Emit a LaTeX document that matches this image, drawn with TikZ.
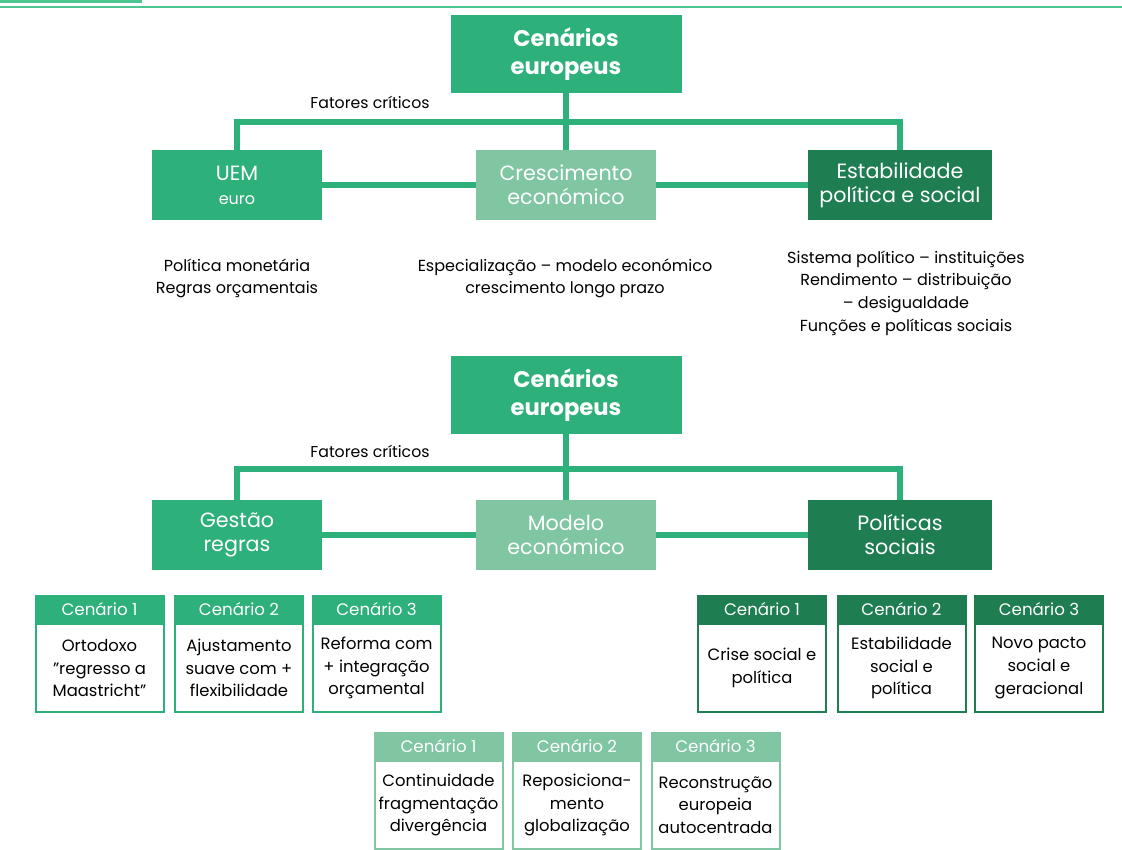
\documentclass[tikz,border=0pt]{standalone}
\usepackage{fontspec}
\setmainfont{Poppins}
\usetikzlibrary{positioning}
\definecolor{verde}{HTML}{2DB079}
\definecolor{verdeclaro}{HTML}{80C6A3}
\definecolor{verdeescuro}{HTML}{1F7D52}
\definecolor{filete}{HTML}{4CC590}

\tikzset{
  topo/.style={rectangle, fill=verde, text=white, align=center,
    minimum width=173.25pt, minimum height=58.5pt,
    font=\fontsize{17}{21.5}\selectfont\bfseries},
  fator/.style={rectangle, fill=#1, text=white, align=center,
    minimum height=52.5pt, inner sep=2pt, font=\fontsize{15.5}{18}\selectfont},
  ligacao/.style={verde, line width=4pt},
  rotulo/.style={font=\fontsize{11.8}{13}\selectfont},
  nota/.style={align=center, font=\fontsize{12}{16.5}\selectfont},
  cabeca/.style={rectangle, fill=#1, draw=#1, line width=1.5pt, text=white,
    minimum width=96pt, minimum height=19.5pt, inner sep=0pt,
    font=\fontsize{12.5}{13}\selectfont},
  cenario/.style={rectangle, draw=#1, line width=1.5pt, fill=white,
    minimum width=96pt, minimum height=66pt, inner sep=1pt, align=center,
    font=\fontsize{12.3}{17}\selectfont},
}

\begin{document}
\begin{tikzpicture}[x=0.75pt, y=-0.75pt]
  \useasboundingbox (0,0) rectangle (1122,850);

  % Header rule
  \draw[filete, line width=2.25pt] (0,1.5) -- (142,1.5);
  \draw[filete, line width=1.5pt] (0,6.5) -- (1122,6.5);

  % First tree: critical factors
  \node[topo] (topoA) at (566,54) {Cenários\\europeus};
  \node[fator=verde, minimum width=127.5pt] (uem) at (237,185)
    {UEM\\{\fontsize{12}{15}\selectfont euro}};
  \node[fator=verdeclaro, minimum width=135pt] (cresc) at (566,185) {Crescimento\\económico};
  \node[fator=verdeescuro, minimum width=138pt] (estab) at (900,185) {Estabilidade\\política e social};

  \coordinate (barA) at (566,122);
  \draw[ligacao] (uem.north) |- (barA) -| (estab.north);
  \draw[ligacao] (topoA.south) -- (cresc.north);
  \draw[ligacao] (uem) -- (cresc);
  \draw[ligacao] (cresc) -- (estab);

  \node[rotulo] (fatA) at (370,102) {Fatores críticos};

  % Notes under each factor
  \node[nota] (notaUem) at (237,278) {Política monetária\\Regras orçamentais};
  \node[nota] (notaCresc) at (565,278) {Especialização – modelo económico\\crescimento longo prazo};
  \node[nota, font=\fontsize{12}{17}\selectfont] (notaEstab) at (906,293)
    {Sistema político – instituições\\Rendimento – distribuição\\– desigualdade\\Funções e políticas sociais};

  % Second tree: scenarios
  \node[topo] (topoB) at (566,395) {Cenários\\europeus};
  \node[fator=verde, minimum width=127.5pt] (gestao) at (237,535) {Gestão\\regras};
  \node[fator=verdeclaro, minimum width=135pt] (modelo) at (566,535) {Modelo\\económico};
  \node[fator=verdeescuro, minimum width=138pt] (politicas) at (900,535) {Políticas\\sociais};

  \coordinate (barB) at (566,469);
  \draw[ligacao] (gestao.north) |- (barB) -| (politicas.north);
  \draw[ligacao] (topoB.south) -- (modelo.north);
  \draw[ligacao] (gestao) -- (modelo);
  \draw[ligacao] (modelo) -- (politicas);

  \node[rotulo] (fatB) at (370,451) {Fatores críticos};

  % Scenario boxes
  \foreach \x/\t [count=\i] in {99.5/{Ortodoxo\\”regresso a\\Maastricht”},
      239/{Ajustamento\\suave com +\\flexibilidade},
      376.5/{Reforma com\\+ integração\\orçamental}} {
    \node[cabeca=verde] (cabG\i) at (\x,609) {Cenário \i};
    \node[cenario=verde, below=0pt of cabG\i] (cenG\i) {\t};
  }

  \foreach \x/\t [count=\i] in {762/{Crise social e\\política},
      901.5/{Estabilidade\\social e\\política},
      1039/{Novo pacto\\social e\\geracional}} {
    \node[cabeca=verdeescuro] (cabP\i) at (\x,609) {Cenário \i};
    \node[cenario=verdeescuro, below=0pt of cabP\i] (cenP\i) {\t};
  }

  \foreach \x/\t [count=\i] in {438.5/{Continuidade\\fragmentação\\divergência},
      577/{Reposiciona-\\mento\\globalização},
      715.5/{Reconstrução\\europeia\\autocentrada}} {
    \node[cabeca=verdeclaro] (cabM\i) at (\x,746) {Cenário \i};
    \node[cenario=verdeclaro, below=0pt of cabM\i] (cenM\i) {\t};
  }
\end{tikzpicture}
\end{document}
